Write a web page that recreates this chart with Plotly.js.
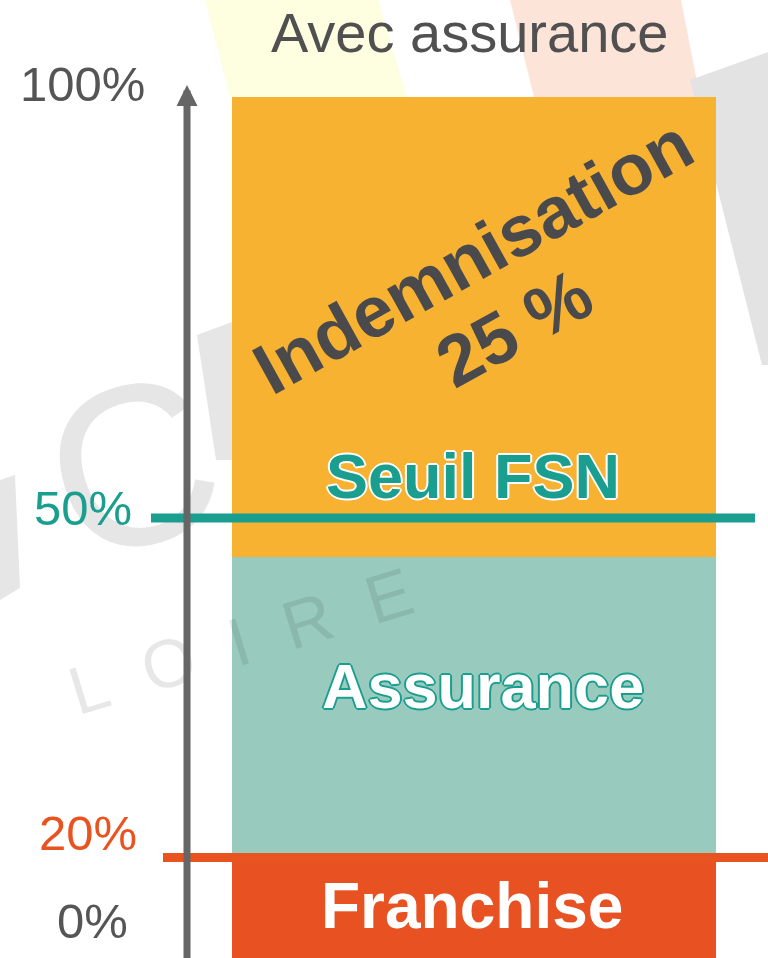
<!DOCTYPE html>
<html>
<head>
<meta charset="utf-8">
<script src="https://cdn.plot.ly/plotly-3.0.1.min.js"></script>
<style>html,body{margin:0;padding:0;background:#fff;}#chart{width:768px;height:958px;}</style>
</head>
<body>
<div id="chart"></div>
<script>
// ---- data (schematic heights, in drawing units where the bar top = 100) ----
const categories = ['Avec assurance'];
const segmentNames = ['Franchise', 'Assurance', 'Indemnisation'];
const segmentHeights = [11.15, 35.42, 53.43];
const segmentColors = ['#e85222', '#98cbbd', '#f7b232'];
const thresholdNames = ['Seuil FSN', 'Franchise'];
const thresholdLevels = [51.1, 11.67];
const thresholdColors = ['#1a9e8f', '#e8531f'];
const tickLabels = ['100%', '50%', '20%', '0%'];
const tickLevels = [101.5, 52.26, 14.52, 4.3];
const tickColors = ['#555555', '#1a9e8f', '#e8531f', '#555555'];
const indemnisationLabel = ['Indemnisation', '25 %'];

// ---- layout helpers ----
const W = 768, H = 958;
const BAR_LEFT = 232, BAR_W = 484, PX_PER_UNIT = 8.61, BOTTOM = 958;
const xr = [-BAR_LEFT / BAR_W - 0.5, (W - BAR_LEFT) / BAR_W - 0.5];
const yr = [0, BOTTOM / PX_PER_UNIT];
const xFromPx = p => p / BAR_W + xr[0];
const pp = (x, y) => (x / W).toFixed(4) + ',' + (1 - y / H).toFixed(4);
const poly = pts => 'M' + pts.map(p => pp(p[0], p[1])).join('L') + 'Z';

// ---- traces ----
const traces = segmentNames.map((name, i) => ({
  type: 'bar', x: [0], y: [segmentHeights[i]], name: name, width: 1,
  marker: {color: segmentColors[i], line: {width: 0}}, hoverinfo: 'name+y'
}));
const lineSpans = [[xFromPx(151), xFromPx(755)], [xFromPx(163), xFromPx(770)]];
thresholdLevels.forEach((lv, i) => {
  traces.push({
    type: 'scatter', mode: 'lines', x: lineSpans[i], y: [lv, lv], name: thresholdNames[i],
    line: {color: thresholdColors[i], width: 9}, hoverinfo: 'skip', cliponaxis: false
  });
});

// ---- annotations ----
const F = 'Liberation Sans, Arial, Helvetica, sans-serif';
const ann = [];
// faint watermark text lying over the chart
ann.push({xref: 'paper', yref: 'paper', x: 240 / W, y: 1 - 641 / H, xanchor: 'center', yanchor: 'middle',
  text: 'L\u00a0\u00a0O\u00a0\u00a0I\u00a0\u00a0R\u00a0\u00a0E', showarrow: false, textangle: -17,
  font: {family: F, size: 68, color: 'rgba(21,21,21,0.1)'}});
ann.push({xref: 'paper', yref: 'paper', x: 469 / W, y: 1 - 33 / H, text: categories[0], showarrow: false,
  font: {family: F, size: 56, color: '#505050'}, xanchor: 'center', yanchor: 'middle'});
const tickX = [82, 83, 88, 92];
tickLabels.forEach((t, i) => ann.push({xref: 'paper', yref: 'y', x: tickX[i] / W, y: tickLevels[i], text: t,
  showarrow: false, font: {family: F, size: 49, color: tickColors[i]}, xanchor: 'center', yanchor: 'middle'}));
// axis arrow
ann.push({xref: 'x', yref: 'y', axref: 'x', ayref: 'y', x: xFromPx(187), y: 101.4, ax: xFromPx(187), ay: -1,
  text: '', showarrow: true, arrowhead: 2, arrowsize: 0.6, arrowwidth: 7, arrowcolor: '#666666', standoff: 0});
// segment labels
ann.push({xref: 'x', yref: 'y', x: xFromPx(472), y: 6.04, text: '<b>' + segmentNames[0] + '</b>', showarrow: false,
  font: {family: F, size: 64, color: '#ffffff'}});
ann.push({xref: 'x', yref: 'y', x: xFromPx(483), y: 31.6, text: '<b>' + segmentNames[1] + '</b>', showarrow: false,
  font: {family: F, size: 63, color: '#ffffff',
    shadow: '2px 0 0 #1a9e8f, -2px 0 0 #1a9e8f, 0 2px 0 #1a9e8f, 0 -2px 0 #1a9e8f, 1px 1px 0 #1a9e8f, -1px -1px 0 #1a9e8f, 1px -1px 0 #1a9e8f, -1px 1px 0 #1a9e8f'}});
ann.push({xref: 'x', yref: 'y', x: xFromPx(473), y: 55.98, text: '<b>' + thresholdNames[0] + '</b>', showarrow: false,
  font: {family: F, size: 63, color: '#1a9e8f',
    shadow: '2px 0 0 #fff, -2px 0 0 #fff, 0 2px 0 #fff, 0 -2px 0 #fff, 1px 1px 0 #fff, -1px -1px 0 #fff, 1px -1px 0 #fff, -1px 1px 0 #fff'}});
ann.push({xref: 'x', yref: 'y', x: xFromPx(473), y: (BOTTOM - 256) / PX_PER_UNIT, text: '<b>' + indemnisationLabel[0] + '</b>',
  showarrow: false, textangle: -29, font: {family: F, size: 72, color: '#4a4a4c'}});
ann.push({xref: 'x', yref: 'y', x: xFromPx(514), y: (BOTTOM - 328) / PX_PER_UNIT, text: '<b>' + indemnisationLabel[1] + '</b>',
  showarrow: false, textangle: -29, font: {family: F, size: 72, color: '#4a4a4c'}});

// ---- decorative watermark (below traces) ----
const shapes = [
  {type: 'path', xref: 'paper', yref: 'paper', layer: 'below', path: poly([[205, 0], [378, 0], [407, 97], [230, 97]]),
    fillcolor: '#fefee0', line: {width: 0}},
  {type: 'path', xref: 'paper', yref: 'paper', layer: 'below', path: poly([[510, 0], [681, 0], [700, 97], [534, 97]]),
    fillcolor: '#fde4d9', line: {width: 0}},
  {type: 'path', xref: 'paper', yref: 'paper', layer: 'below', path: poly([[690, 80], [768, 52], [768, 365], [762, 365]]),
    fillcolor: '#e2e3e2', line: {width: 0}},
  {type: 'path', xref: 'paper', yref: 'paper', layer: 'below', path: poly([[0, 480], [15, 475], [20, 588], [0, 600]]),
    fillcolor: '#e6e6e6', line: {width: 0}},
  {type: 'path', xref: 'paper', yref: 'paper', layer: 'below', path: poly([[197, 335], [232, 322], [232, 460], [216, 460]]),
    fillcolor: '#e6e6e6', line: {width: 0}},
  {type: 'rect', xref: 'paper', yref: 'paper', layer: 'below', x0: 12 / W, x1: 240 / W, y0: 1 - 560 / H, y1: 1 - 330 / H,
    fillcolor: 'rgba(0,0,0,0)', line: {width: 0},
    label: {text: 'C', textangle: -17, textposition: 'middle center', font: {family: F, size: 228, color: '#e6e6e6'}}}
];

const layout = {
  width: W, height: H, margin: {l: 0, r: 0, t: 0, b: 0, pad: 0},
  paper_bgcolor: '#ffffff', plot_bgcolor: 'rgba(0,0,0,0)',
  barmode: 'stack', bargap: 0, showlegend: false,
  xaxis: {range: xr, visible: false, fixedrange: true},
  yaxis: {range: yr, visible: false, fixedrange: true},
  annotations: ann, shapes: shapes
};
Plotly.newPlot('chart', traces, layout, {displayModeBar: false, staticPlot: true});
</script>
</body>
</html>
